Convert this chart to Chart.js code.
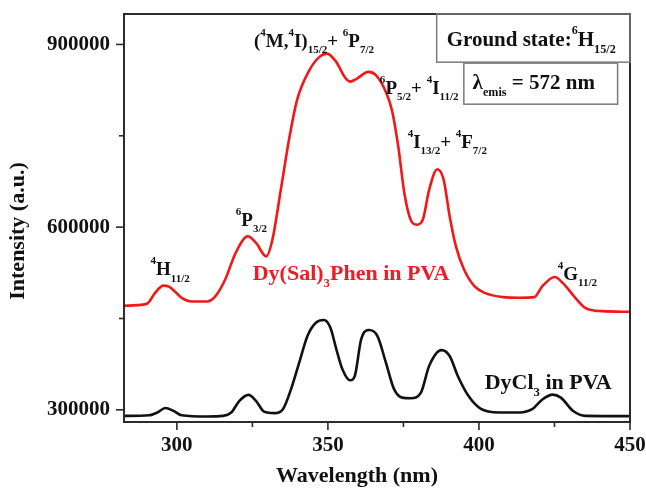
<!DOCTYPE html>
<html>
<head>
<meta charset="utf-8">
<script src="https://cdn.jsdelivr.net/npm/chart.js@4/dist/chart.umd.min.js"></script>
<style>
html, body { margin: 0; padding: 0; background: #fff; }
#wrap { width: 646px; height: 490px; }
</style>
</head>
<body>
<div id="wrap"><canvas id="spectrum" width="646" height="490"></canvas></div>
<script>
// Excitation spectra.
const complexWavelengths = [282.5, 290, 292.8, 295.5, 297.5, 301.6, 305, 310, 312.5, 316, 319.4, 323.5, 326.2, 329.6,
    331.6, 334.4, 337.1, 339.8, 343.9, 347.3, 349.7, 352.8, 355.5, 357.3, 359.6, 363.4, 365.8, 369.2, 371.2, 373.3,
    375.3, 377.4, 379.4, 381.4, 383.5, 386.2, 388.3, 390.3, 392.4, 395.1, 398.5, 401.9, 408, 413.5, 418.3, 421,
    425.1, 427.8, 431.9, 435.3, 440.8, 450];
const complexIntensity = [471000, 474000, 492000, 504000, 502000, 484000, 478000, 478000, 485000, 514000, 557000, 585000, 574000, 552000,
    579000, 661000, 743000, 809000, 858000, 880000, 885000, 871000, 847000, 839000, 844000, 855000, 850000, 822000, 792000, 732000,
    656000, 612000, 604000, 612000, 661000, 695000, 678000, 618000, 568000, 530000, 503000, 492000, 485000, 484000, 485000, 503000,
    518000, 508000, 484000, 467000, 462000, 461000];

const chlorideWavelengths = [282.5, 290.7, 293.5, 296.2, 298.9, 301.6, 310, 315.3, 318, 320.7, 323.7, 326.2, 328.9, 332.3,
    335.1, 337.8, 340.5, 343.2, 346, 348.7, 350.8, 352.8, 354.8, 357.3, 358.9, 361, 363.7, 366.4, 369.2, 371.9,
    374.6, 377.4, 380.8, 383.5, 387.6, 390.3, 393, 396.5, 400.5, 406.7, 413.5, 417.6, 421, 424.4, 427.1, 431.2,
    435.3, 450];
const chlorideIntensity = [290000, 291000, 295500, 303000, 298300, 291000, 289000, 290000, 295500, 314700, 324500, 314700, 297000, 294500,
    301000, 334000, 377500, 421000, 443000, 447400, 435000, 399300, 366600, 348500, 355600, 415700, 431000, 421000, 377500, 334000,
    320000, 319000, 328300, 372000, 398000, 388400, 355600, 323000, 302000, 295600, 295600, 301000, 317000, 325000, 320000, 298000,
    290000, 289600];

const xMajorTicks = [300, 350, 400, 450];
const xMinorTicks = [325, 375, 425];
const yMajorTicks = [300000, 600000, 900000];
const yMinorTicks = [450000, 750000];

// Transition labels: text with ^{sup} and _{sub}, anchored at (wavelength, intensity) left baseline.
const peakLabels = [
    { text: '(^{4}M,^{4}I)_{15/2}+ ^{6}P_{7/2}', x: 325.5, y: 895600 },
    { text: '^{6}P_{5/2}+ ^{4}I_{11/2}', x: 367.2, y: 818300 },
    { text: '^{4}I_{13/2}+ ^{4}F_{7/2}', x: 376.4, y: 729500 },
    { text: '^{6}P_{3/2}', x: 319.5, y: 601300 },
    { text: '^{4}H_{11/2}', x: 291.3, y: 520700 },
    { text: '^{4}G_{11/2}', x: 426.1, y: 512500 },
];
const seriesLabels = [
    { text: 'Dy(Sal)_{3}Phen in PVA', x: 325.1, y: 512500, color: '#ee1c24' },
    { text: 'DyCl_{3} in PVA', x: 401.9, y: 335000, color: '#111111' },
];
const infoBoxes = [
    { text: 'Ground state:^{6}H_{15/2}', x: 389.3, y: 897200, x0: 386.0, x1: 450, y0: 950000, y1: 870900 },
    { text: 'λ_{emis} = 572 nm', x: 397.9, y: 826500, x0: 395.0, x1: 445.9, y0: 869300, y1: 801900 },
];

const FONT = '"Liberation Serif", "Times New Roman", serif';

function drawRich(ctx, text, x, y, size, color) {
    const parts = text.match(/\^\{[^}]*\}|_\{[^}]*\}|[^\^_]+/g) || [];
    let cx = x;
    ctx.fillStyle = color;
    ctx.textAlign = 'left';
    ctx.textBaseline = 'alphabetic';
    parts.forEach((p) => {
        let s = size;
        let dy = 0;
        let t = p;
        if (p[0] === '^') {
            t = p.slice(2, -1);
            s = size * 0.58;
            dy = -size * 0.6;
        } else if (p[0] === '_') {
            t = p.slice(2, -1);
            s = size * 0.58;
            dy = size * 0.32;
        }
        ctx.font = `bold ${s}px ${FONT}`;
        ctx.fillText(t, cx, y + dy);
        cx += ctx.measureText(t).width;
    });
}

const framePlugin = {
    id: 'frameAndTicks',
    afterDraw(chart) {
        const { ctx, chartArea: a, scales } = chart;
        const xs = scales.x;
        const ys = scales.y;
        ctx.save();
        ctx.strokeStyle = '#2b2b2b';
        ctx.lineWidth = 1.6;
        const tick = (x0, y0, x1, y1) => {
            ctx.beginPath();
            ctx.moveTo(x0, y0);
            ctx.lineTo(x1, y1);
            ctx.stroke();
        };
        xMajorTicks.forEach((v) => { const px = xs.getPixelForValue(v); tick(px, a.bottom, px, a.bottom + 8); });
        xMinorTicks.forEach((v) => { const px = xs.getPixelForValue(v); tick(px, a.bottom, px, a.bottom + 5); });
        yMajorTicks.forEach((v) => { const py = ys.getPixelForValue(v); tick(a.left - 8, py, a.left, py); });
        yMinorTicks.forEach((v) => { const py = ys.getPixelForValue(v); tick(a.left - 5, py, a.left, py); });

        ctx.lineWidth = 2;
        ctx.strokeRect(a.left, a.top, a.right - a.left, a.bottom - a.top);

        // info boxes
        ctx.strokeStyle = '#7a7a7a';
        ctx.lineWidth = 1.5;
        infoBoxes.forEach((b) => {
            const left = xs.getPixelForValue(b.x0);
            const right = xs.getPixelForValue(b.x1);
            const top = ys.getPixelForValue(b.y0);
            const bottom = ys.getPixelForValue(b.y1);
            ctx.strokeRect(left, top, right - left, bottom - top);
            drawRich(ctx, b.text, xs.getPixelForValue(b.x), ys.getPixelForValue(b.y), 21, '#111111');
        });

        peakLabels.forEach((l) => {
            drawRich(ctx, l.text, xs.getPixelForValue(l.x), ys.getPixelForValue(l.y), 19, '#111111');
        });
        seriesLabels.forEach((l) => {
            drawRich(ctx, l.text, xs.getPixelForValue(l.x), ys.getPixelForValue(l.y), 22, l.color);
        });

        // axis titles
        ctx.fillStyle = '#111111';
        ctx.font = `bold 22px ${FONT}`;
        ctx.textAlign = 'center';
        ctx.textBaseline = 'middle';
        ctx.fillText('Wavelength (nm)', 357, 476);
        ctx.translate(18, 231);
        ctx.rotate(-Math.PI / 2);
        ctx.fillText('Intensity (a.u.)', 0, 0);
        ctx.restore();
    },
};

function toPoints(xs, ys) {
    return xs.map((x, i) => ({ x, y: ys[i] }));
}

new Chart(document.getElementById('spectrum'), {
    type: 'line',
    data: {
        datasets: [
            {
                label: 'Dy(Sal)3Phen in PVA',
                data: toPoints(complexWavelengths, complexIntensity),
                borderColor: '#f01818',
                borderWidth: 2.6,
                pointRadius: 0,
                fill: false,
                cubicInterpolationMode: 'monotone',
            },
            {
                label: 'DyCl3 in PVA',
                data: toPoints(chlorideWavelengths, chlorideIntensity),
                borderColor: '#111111',
                borderWidth: 2.6,
                pointRadius: 0,
                fill: false,
                cubicInterpolationMode: 'monotone',
            },
        ],
    },
    options: {
        responsive: false,
        animation: false,
        devicePixelRatio: 1,
        layout: { padding: { top: 14, right: 16, left: 0, bottom: 0 } },
        plugins: { legend: { display: false }, tooltip: { enabled: false } },
        scales: {
            x: {
                type: 'linear',
                min: 282.5,
                max: 450,
                afterBuildTicks: (s) => { s.ticks = xMajorTicks.map((v) => ({ value: v })); },
                afterFit: (s) => { s.height = 68; s.paddingLeft = 0; s.paddingRight = 0; },
                grid: { display: false, drawTicks: false },
                border: { display: false },
                ticks: {
                    padding: 11,
                    color: '#111111',
                    maxRotation: 0,
                    autoSkip: false,
                    font: { family: FONT, size: 21, weight: 'bold' },
                    callback: (v) => String(v),
                },
            },
            y: {
                type: 'linear',
                min: 280000,
                max: 950000,
                afterBuildTicks: (s) => { s.ticks = yMajorTicks.map((v) => ({ value: v })); },
                afterFit: (s) => { s.width = 124; s.paddingTop = 0; s.paddingBottom = 0; },
                grid: { display: false, drawTicks: false },
                border: { display: false },
                ticks: {
                    padding: 14,
                    color: '#111111',
                    autoSkip: false,
                    font: { family: FONT, size: 21, weight: 'bold' },
                    callback: (v) => String(v),
                },
            },
        },
    },
    plugins: [framePlugin],
});
</script>
</body>
</html>
